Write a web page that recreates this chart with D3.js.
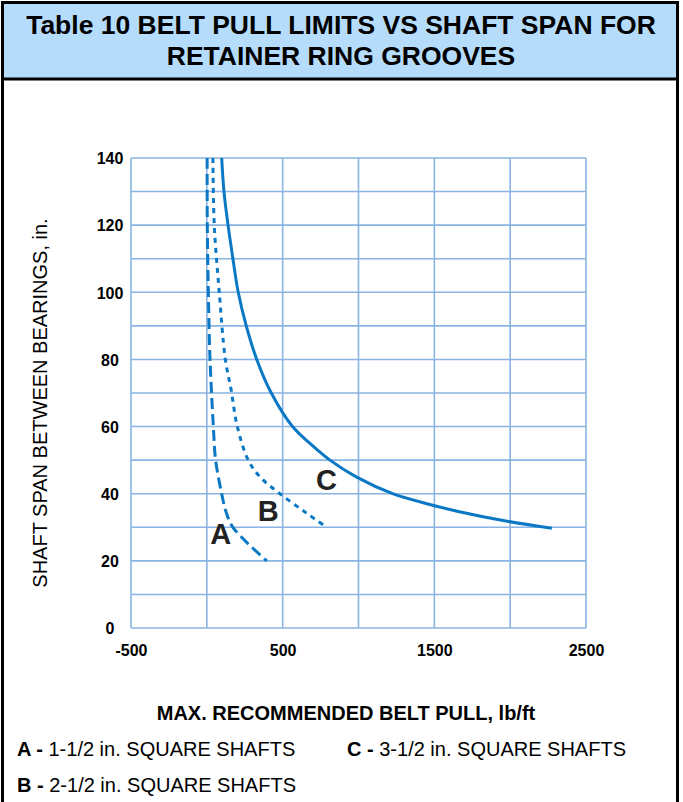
<!DOCTYPE html>
<html>
<head>
<meta charset="utf-8">
<script src="https://cdn.jsdelivr.net/npm/d3@7"></script>
<style>
  html, body { margin: 0; padding: 0; background: #fff; }
  svg { display: block; font-family: "Liberation Sans", Arial, sans-serif; }
</style>
</head>
<body>
<svg id="chart" width="683" height="802"></svg>
<script>
// ---- data ----
const titleLines = ["Table 10 BELT PULL LIMITS VS SHAFT SPAN FOR", "RETAINER RING GROOVES"];
const xTickValues = [-500, 0, 500, 1000, 1500, 2000, 2500];
const xTickLabels = ["-500", "", "500", "", "1500", "", "2500"];
const yTickValues = [0, 10, 20, 30, 40, 50, 60, 70, 80, 90, 100, 110, 120, 130, 140];
const yTickLabels = ["0", "", "20", "", "40", "", "60", "", "80", "", "100", "", "120", "", "140"];
const xTitle = "MAX. RECOMMENDED BELT PULL, lb/ft";
const yTitle = "SHAFT SPAN BETWEEN BEARINGS, in.";

// series A: 1-1/2 in. square shafts (long dashes)
const seriesA_x = [2, 3, 10, 21, 43, 58, 98, 124, 172, 395];
const seriesA_y = [140, 120, 100, 80, 60, 50, 40, 35, 30, 20];
// series B: 2-1/2 in. square shafts (short dashes)
const seriesB_x = [40, 49, 82, 122, 160, 201, 273, 351, 482, 658, 790];
const seriesB_y = [140, 120, 100, 80, 71, 60, 50, 45, 40, 34.2, 30];
// series C: 3-1/2 in. square shafts (solid)
const seriesC_x = [98, 113, 140, 172, 207, 260, 329, 425, 565, 680, 812, 985, 1225, 1470, 1650, 1980, 2275];
const seriesC_y = [140, 130, 120, 110, 100, 90, 80, 70, 60, 55, 50, 45, 40, 36.8, 34.8, 31.8, 29.7];

const curveLabels = ["A", "B", "C"];
const curveLabelX = [91, 405, 789];
const curveLabelY = [28.2, 35.1, 44.1];

const legendKeys = ["A -", "C -", "B -"];
const legendTexts = [" 1-1/2 in. SQUARE SHAFTS", " 3-1/2 in. SQUARE SHAFTS", " 2-1/2 in. SQUARE SHAFTS"];

// ---- drawing ----
const svg = d3.select("#chart");
const lineColor = "#0a78c4";
const gridColor = "#8ab4e3";

// title band
svg.append("rect").attr("x", 3).attr("y", 3).attr("width", 674).attr("height", 76)
  .attr("fill", "#b5dcfb");
svg.append("line").attr("x1", 3).attr("x2", 677).attr("y1", 79).attr("y2", 79)
  .attr("stroke", "#000").attr("stroke-width", 3);
// frame
svg.append("rect").attr("x", 2.5).attr("y", 2.5).attr("width", 675).attr("height", 820)
  .attr("fill", "none").attr("stroke", "#000").attr("stroke-width", 3);

svg.selectAll("text.title").data(titleLines).join("text")
  .attr("class", "title")
  .attr("x", 341).attr("y", (d, i) => 34 + i * 31)
  .attr("text-anchor", "middle")
  .attr("font-weight", "bold").attr("font-size", 26.5)
  .attr("fill", "#000")
  .text(d => d);

// plot
const plot = { left: 131, right: 586, top: 158, bottom: 628 };
const x = d3.scaleLinear().domain([-500, 2500]).range([plot.left, plot.right]);
const y = d3.scaleLinear().domain([0, 140]).range([plot.bottom, plot.top]);

const g = svg.append("g");
// grid
g.selectAll("line.vg").data(xTickValues).join("line")
  .attr("class", "vg")
  .attr("x1", d => x(d)).attr("x2", d => x(d))
  .attr("y1", plot.top).attr("y2", plot.bottom)
  .attr("stroke", gridColor).attr("stroke-width", 1.6);
g.selectAll("line.hg").data(yTickValues).join("line")
  .attr("class", "hg")
  .attr("x1", plot.left).attr("x2", plot.right)
  .attr("y1", d => y(d)).attr("y2", d => y(d))
  .attr("stroke", gridColor).attr("stroke-width", 1.6);

// axes via d3.axis (tick labels only)
const xAxis = d3.axisBottom(x).tickValues(xTickValues)
  .tickFormat((d, i) => xTickLabels[i]).tickSize(0).tickPadding(0);
const xa = svg.append("g").attr("transform", `translate(0,${plot.bottom})`).call(xAxis);
xa.select(".domain").remove();
xa.selectAll("text").attr("y", 28).attr("dy", 0)
  .attr("font-family", "Liberation Sans, Arial, sans-serif")
  .attr("font-size", 16).attr("font-weight", "bold").attr("fill", "#000");

const yAxis = d3.axisLeft(y).tickValues(yTickValues)
  .tickFormat((d, i) => yTickLabels[i]).tickSize(0).tickPadding(0);
const ya = svg.append("g").attr("transform", `translate(110,0)`).call(yAxis);
ya.select(".domain").remove();
ya.selectAll("text").attr("x", 0).attr("text-anchor", "middle").attr("dy", "0.36em")
  .attr("font-family", "Liberation Sans, Arial, sans-serif")
  .attr("font-size", 16).attr("font-weight", "bold").attr("fill", "#000");

// axis titles
svg.append("text").attr("x", 346).attr("y", 720)
  .attr("text-anchor", "middle").attr("font-weight", "bold").attr("font-size", 20)
  .attr("fill", "#000").text(xTitle);
svg.append("text").attr("transform", "translate(47,403) rotate(-90)")
  .attr("text-anchor", "middle").attr("font-size", 20).attr("fill", "#000")
  .text(yTitle);

// curves
const line = d3.line().x(d => x(d[0])).y(d => y(d[1])).curve(d3.curveCatmullRom.alpha(0.5));
const series = [
  { xs: seriesA_x, ys: seriesA_y, dash: "11,5" },
  { xs: seriesB_x, ys: seriesB_y, dash: "5,5" },
  { xs: seriesC_x, ys: seriesC_y, dash: null }
];
series.forEach(s => {
  const pts = s.xs.map((v, i) => [v, s.ys[i]]);
  svg.append("path").attr("d", line(pts))
    .attr("fill", "none").attr("stroke", lineColor).attr("stroke-width", 3)
    .attr("stroke-dasharray", s.dash);
});

// curve labels
svg.selectAll("text.cl").data(curveLabels).join("text")
  .attr("class", "cl")
  .attr("x", (d, i) => x(curveLabelX[i]))
  .attr("y", (d, i) => y(curveLabelY[i]))
  .attr("dy", "0.36em")
  .attr("text-anchor", "middle").attr("font-weight", "bold").attr("font-size", 29)
  .attr("fill", "#222")
  .text(d => d);

// legend
const legendPos = [[17, 756], [347, 756], [17, 792]];
legendKeys.forEach((k, i) => {
  const t = svg.append("text").attr("x", legendPos[i][0]).attr("y", legendPos[i][1])
    .attr("font-size", 20).attr("fill", "#000");
  t.append("tspan").attr("font-weight", "bold").text(k);
  t.append("tspan").text(legendTexts[i]);
});
</script>
</body>
</html>
